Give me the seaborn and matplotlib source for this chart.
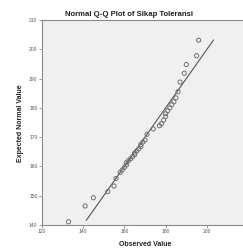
import matplotlib
matplotlib.use("Agg")
import matplotlib.pyplot as plt
import seaborn as sns
import pandas as pd

observed = [133, 141, 145, 152, 155, 156, 158, 159, 160, 161, 161, 162, 163, 164,
            165, 165, 166, 167, 168, 168, 169, 170, 171, 174, 177, 178, 179, 180,
            180, 181, 182, 183, 184, 185, 186, 187, 189, 190, 195, 196]
expected = [141.1, 146.5, 149.3, 151.4, 153.3, 155.9, 158.0, 158.8, 159.7, 160.5,
            161.3, 162.0, 162.6, 163.3, 164.0, 164.6, 165.3, 166.0, 166.8, 167.5,
            168.3, 169.0, 171.0, 172.8, 173.9, 174.6, 175.8, 177.0, 178.0, 179.0,
            180.0, 181.1, 182.1, 183.4, 185.5, 188.8, 191.8, 194.8, 197.8, 203.1]
line_x = [141.6, 203.2]
line_y = [141.6, 203.2]
x_ticks = [120, 140, 160, 180, 200, 220]
y_ticks = [140, 150, 160, 170, 180, 190, 200, 210]

sns.set_style("white")
plt.rcParams['font.family'] = ['Liberation Sans', 'DejaVu Sans']

W, H = 243, 248
fig = plt.figure(figsize=(W / 100, H / 100), dpi=100)
fig.patch.set_facecolor("white")

left_px, right_px, top_px, bottom_px = 41.7, 252.4, 20, 225
ax = fig.add_axes([left_px / W, (H - bottom_px) / H,
                   (right_px - left_px) / W, (bottom_px - top_px) / H])
ax.set_facecolor("#f0f0f0")

df = pd.DataFrame({"Observed Value": observed, "Expected Normal Value": expected})
ax.plot(line_x, line_y, color="#555555", lw=0.8, zorder=2)
sns.scatterplot(data=df, x="Observed Value", y="Expected Normal Value", ax=ax,
                marker="o", s=9, facecolor="none", edgecolor="#707070",
                linewidth=0.7, zorder=3)

ax.set_xlim(120, 222)
ax.set_ylim(140, 210)
ax.set_xticks(x_ticks)
ax.set_yticks(y_ticks)
ax.tick_params(axis="both", labelsize=3.6, labelcolor="#555555", color="#777777",
               length=2.2, width=0.5, pad=0.8, direction="out",
               bottom=True, left=True)
for side in ["left", "bottom", "top"]:
    ax.spines[side].set_color("#8a8a8a")
    ax.spines[side].set_linewidth(0.8)
ax.spines["right"].set_visible(False)

ax.set_xlabel("")
ax.set_ylabel("")
fig.text(145 / W, 1 - 244 / H, "Observed Value", ha="center", va="center",
         fontsize=5, fontweight="bold", color="#222222")
fig.text(21 / W, 1 - 123 / H, "Expected Normal Value", ha="center", va="center",
         rotation=90, fontsize=5, fontweight="bold", color="#222222")
fig.text(129 / W, 1 - 14 / H, "Normal Q-Q Plot of Sikap Toleransi", ha="center",
         va="center", fontsize=5.6, fontweight="bold", color="#222222")

fig.savefig("out.png", dpi=100, facecolor="white")
